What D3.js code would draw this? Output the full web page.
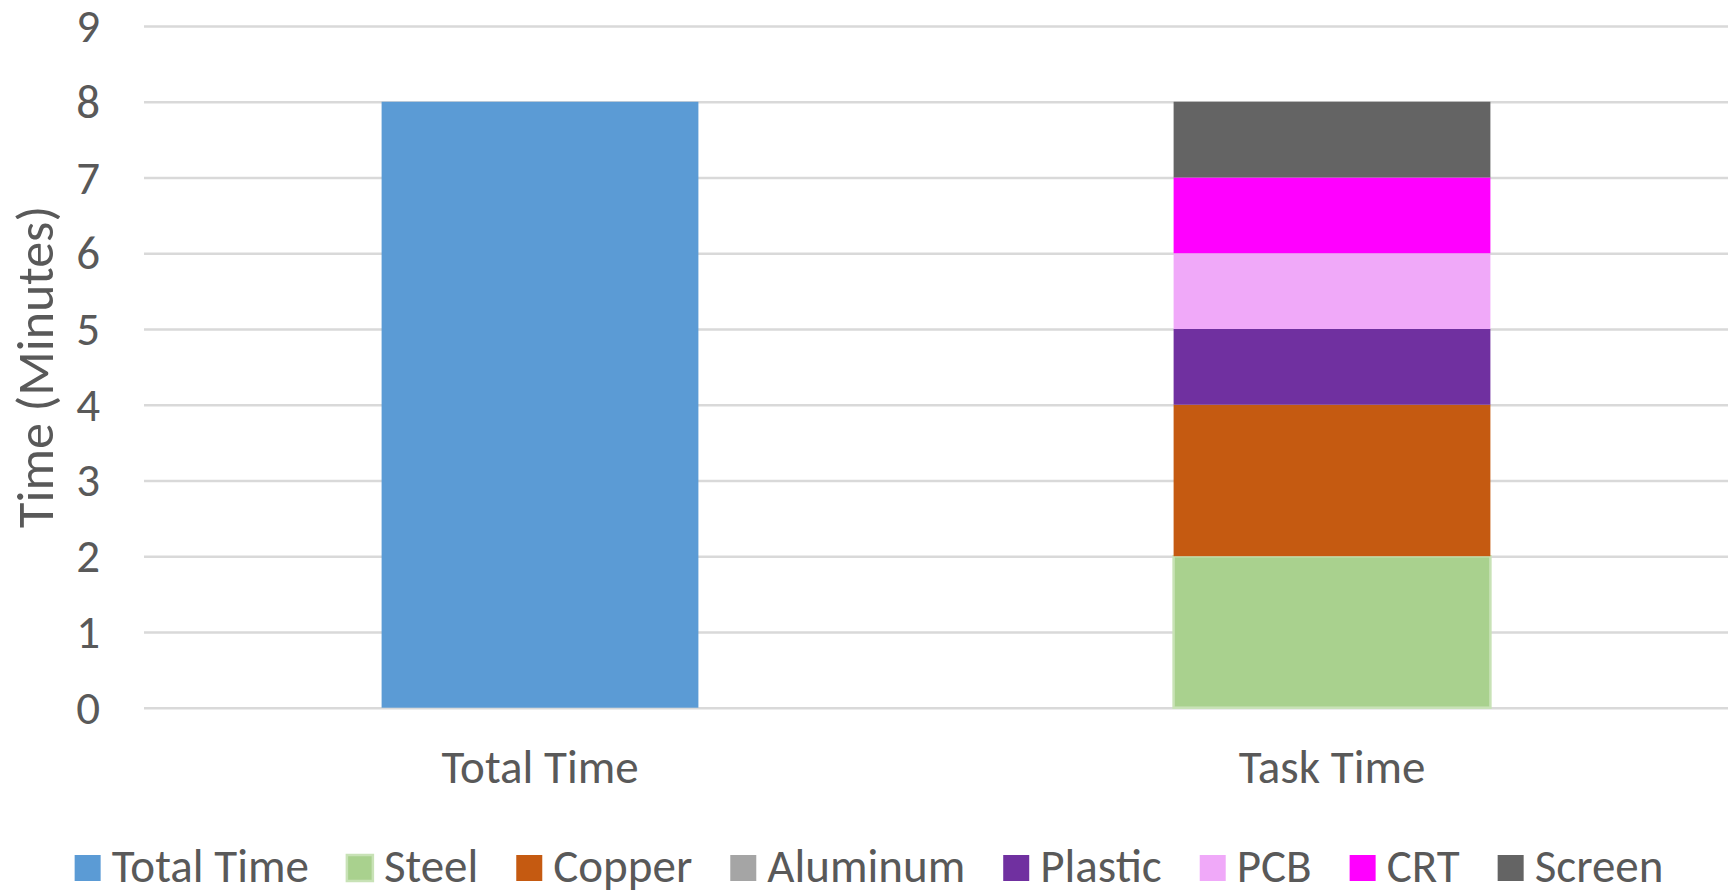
<!DOCTYPE html>
<html>
<head>
<meta charset="utf-8">
<script src="https://cdn.jsdelivr.net/npm/d3@7"></script>
<style>
  html, body { margin: 0; padding: 0; background: #ffffff; }
  svg { display: block; }
  text { font-family: Calibri, Carlito, "Liberation Sans", Arial, sans-serif; fill: #595959; }
</style>
</head>
<body>
<svg id="chart" width="1733" height="892"></svg>
<script>
// Categories along the x axis
const categories = ["Total Time", "Task Time"];

// Series (stacked in legend order), values per category in minutes
const seriesNames = ["Total Time", "Steel", "Copper", "Aluminum", "Plastic", "PCB", "CRT", "Screen"];
const totalTime = [8, 0];
const steel     = [0, 2];
const copper    = [0, 2];
const aluminum  = [0, 0];
const plastic   = [0, 1];
const pcb       = [0, 1];
const crt       = [0, 1];
const screen    = [0, 1];

const seriesColors = ["#5B9BD5", "#A9D18E", "#C55A11", "#A5A5A5", "#7030A0", "#F0A9F9", "#FF00FF", "#646464"];
const seriesBorders = [null, "#C8E2B6", null, null, null, null, null, null];
const yTicks = [0, 1, 2, 3, 4, 5, 6, 7, 8, 9];
const yTitle = "Time (Minutes)";

const seriesValues = [totalTime, steel, copper, aluminum, plastic, pcb, crt, screen];

// Build a table the stack layout can consume
const table = categories.map((c, i) => {
  const row = { category: c };
  seriesNames.forEach((s, k) => { row[s] = seriesValues[k][i]; });
  return row;
});

const FONT = 'Calibri, Carlito, "Liberation Sans", Arial, sans-serif';
const svg = d3.select("#chart");
const plot = { left: 144, right: 1728, top: 26, bottom: 707.7 };

const x = d3.scaleBand()
  .domain(categories)
  .range([plot.left, plot.right])
  .paddingInner(0.6)
  .paddingOuter(0.3);

const y = d3.scaleLinear()
  .domain([0, 9])
  .range([plot.bottom, plot.top]);

// Horizontal gridlines
const grid = svg.append("g")
  .attr("transform", `translate(${plot.left},0)`)
  .call(d3.axisLeft(y).tickValues(yTicks).tickSize(-(plot.right - plot.left)).tickFormat(""));
grid.select(".domain").remove();
grid.selectAll("line").attr("stroke", "#D9D9D9").attr("stroke-width", 2.6);

// Y tick labels
const yAxis = svg.append("g")
  .attr("transform", `translate(100,0)`)
  .call(d3.axisLeft(y).tickValues(yTicks).tickSize(0).tickPadding(0).tickFormat(d3.format("d")));
yAxis.select(".domain").remove();
yAxis.selectAll("text")
  .attr("font-size", 47)
  .attr("text-anchor", "end")
  .attr("dy", "0.33em")
  .style("fill", "#595959")
  .style("font-family", FONT);

// Stacked bars
const stacked = d3.stack().keys(seriesNames)(table);
svg.append("g")
  .selectAll("g")
  .data(stacked)
  .join("g")
  .attr("fill", (d, i) => seriesColors[i])
  .each(function(d, i) {
    if (seriesBorders[i]) d3.select(this).attr("stroke", seriesBorders[i]).attr("stroke-width", 2.5);
  })
  .selectAll("rect")
  .data(d => d.filter(p => p[1] - p[0] > 0))
  .join("rect")
  .attr("x", d => x(d.data.category))
  .attr("width", x.bandwidth())
  .attr("y", d => y(d[1]))
  .attr("height", d => y(d[0]) - y(d[1]));

// Category labels
const xAxis = svg.append("g")
  .attr("transform", `translate(0,${plot.bottom})`)
  .call(d3.axisBottom(x).tickSize(0).tickPadding(0));
xAxis.select(".domain").remove();
xAxis.selectAll("text")
  .attr("font-size", 47)
  .attr("y", 75)
  .attr("dy", 0)
  .style("fill", "#595959")
  .style("font-family", FONT);

// Y axis title
svg.append("text")
  .attr("transform", `translate(53,${(plot.top + plot.bottom) / 2}) rotate(-90)`)
  .attr("text-anchor", "middle")
  .attr("font-size", 52)
  .text(yTitle);

// Legend, centered below the chart
const legend = svg.append("g");
const sw = 26, textGap = 11, itemGap = 38;
let cursor = 0;
seriesNames.forEach((name, i) => {
  const item = legend.append("g").attr("transform", `translate(${cursor},0)`);
  item.append("rect")
    .attr("x", 0).attr("y", -27)
    .attr("width", sw).attr("height", sw)
    .attr("fill", seriesColors[i])
    .attr("stroke", seriesBorders[i] || "none")
    .attr("stroke-width", 2.5);
  const t = item.append("text")
    .attr("x", sw + textGap)
    .attr("y", 0)
    .attr("font-size", 47)
    .text(name);
  cursor += sw + textGap + t.node().getComputedTextLength() + itemGap;
});
const legendWidth = cursor - itemGap;
legend.attr("transform", `translate(${869 - legendWidth / 2},882)`);
</script>
</body>
</html>
